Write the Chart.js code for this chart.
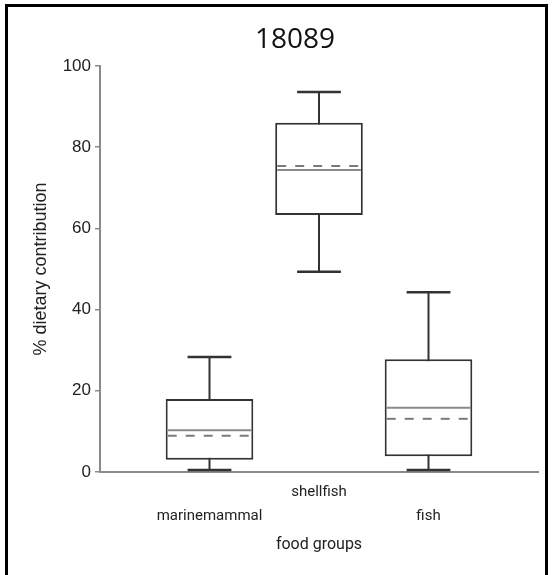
<!DOCTYPE html>
<html>
<head>
<meta charset="utf-8">
<script src="https://cdn.jsdelivr.net/npm/chart.js@4"></script>
<style>
  html, body { margin: 0; padding: 0; background: #fff; }
  #wrap { position: relative; width: 552px; height: 575px; overflow: hidden; }
  #boxChart { position: absolute; left: 0; top: 0; }
  #frame { position: absolute; left: 5px; top: 4px; width: 543px; height: 620px; border: 3px solid #000; box-sizing: border-box; }
  #heading { position: absolute; left: 0; top: 23px; width: 590px; text-align: center;
             font-family: "Open Sans"; font-size: 28px; line-height: 28px; color: #111; }
</style>
</head>
<body>
<div id="wrap">
  <canvas id="boxChart" width="552" height="575"></canvas>
  <div id="frame"></div>
  <div id="heading">18089</div>
</div>
<script>
// food groups and their box statistics (% dietary contribution)
const groups = ['marinemammal', 'shellfish', 'fish'];
const groupTickLabels = [['', 'marinemammal'], ['shellfish', ''], ['', 'fish']];
const whiskerLow = [0.5, 49.3, 0.5];
const quartileLow = [3.0, 63.3, 3.9];
const medians = [10.3, 74.4, 15.8];
const means = [8.9, 75.4, 13.1];
const quartileHigh = [18.0, 86.0, 27.8];
const whiskerHigh = [28.3, 93.6, 44.3];
const yTicks = [0, 20, 40, 60, 80, 100];

const INK = '#333';
const GREY = '#8a8a8a';

// whiskers + caps under the boxes, median / mean lines over them
const boxExtras = {
  id: 'boxExtras',
  beforeDatasetsDraw(chart) {
    const { ctx, scales: { x, y } } = chart;
    ctx.save();
    ctx.strokeStyle = INK;
    groups.forEach((g, i) => {
      const cx = x.getPixelForValue(i + 1);
      const half = x.getPixelForValue(i + 1.2) - cx;
      ctx.lineWidth = 2;
      ctx.beginPath();
      ctx.moveTo(cx, y.getPixelForValue(whiskerLow[i]));
      ctx.lineTo(cx, y.getPixelForValue(whiskerHigh[i]));
      ctx.stroke();
      ctx.lineWidth = 2.5;
      [whiskerLow[i], whiskerHigh[i]].forEach(v => {
        const py = y.getPixelForValue(v);
        ctx.beginPath();
        ctx.moveTo(cx - half, py);
        ctx.lineTo(cx + half, py);
        ctx.stroke();
      });
    });
    ctx.restore();
  },
  afterDatasetsDraw(chart) {
    const { ctx, scales: { y } } = chart;
    const bars = chart.getDatasetMeta(0).data;
    ctx.save();
    ctx.lineWidth = 2;
    bars.forEach((bar, i) => {
      const { x: cx, width } = bar.getProps(['x', 'width'], true);
      const l = cx - width / 2 + 2;
      const r = cx + width / 2 - 2;
      // median
      ctx.setLineDash([]);
      ctx.strokeStyle = GREY;
      let py = y.getPixelForValue(medians[i]);
      ctx.beginPath();
      ctx.moveTo(l, py);
      ctx.lineTo(r, py);
      ctx.stroke();
      // mean
      ctx.setLineDash([9, 9]);
      ctx.strokeStyle = '#7a7a7a';
      py = y.getPixelForValue(means[i]);
      ctx.beginPath();
      ctx.moveTo(l, py);
      ctx.lineTo(r, py);
      ctx.stroke();
    });
    ctx.restore();
  }
};

new Chart(document.getElementById('boxChart'), {
  type: 'bar',
  data: {
    datasets: [{
      data: groups.map((g, i) => ({ x: i + 1, y: [quartileLow[i], quartileHigh[i]] })),
      backgroundColor: '#fff',
      borderColor: INK,
      borderWidth: 2,
      borderSkipped: false,
      barPercentage: 0.8,
      categoryPercentage: 1
    }]
  },
  options: {
    responsive: false,
    animation: false,
    layout: { padding: { left: 0, top: 66, right: 14, bottom: 0 } },
    plugins: { legend: { display: false }, tooltip: { enabled: false } },
    scales: {
      x: {
        type: 'linear',
        min: 0,
        max: 4,
        offset: false,
        grid: { display: false, drawTicks: false, offset: false },
        border: { color: GREY, width: 2 },
        afterBuildTicks: s => { s.ticks = groups.map((g, i) => ({ value: i + 1 })); },
        afterFit: s => { s.height = 103; },
        ticks: {
          autoSkip: false,
          maxRotation: 0,
          padding: 8,
          color: '#222',
          font: { family: 'Roboto', size: 15, lineHeight: '24px' },
          callback: (v, i) => groupTickLabels[i]
        },
        title: {
          display: true,
          text: 'food groups',
          color: '#222',
          font: { family: 'Roboto', size: 16 },
          padding: { top: 0, bottom: 20 }
        }
      },
      y: {
        min: 0,
        max: 100,
        afterBuildTicks: s => { s.ticks = yTicks.map(v => ({ value: v })); },
        afterFit: s => { s.width = 100; },
        grid: { drawOnChartArea: false, tickLength: 5, color: GREY, lineWidth: 1.5 },
        border: { color: GREY, width: 2 },
        ticks: { padding: 4, color: '#222', font: { family: 'Liberation Sans', size: 17 } },
        title: {
          display: true,
          text: '% dietary contribution',
          color: '#222',
          font: { family: 'Liberation Sans', size: 18 },
          padding: { top: 30, bottom: 0 }
        }
      }
    }
  },
  plugins: [boxExtras]
});
</script>
</body>
</html>
